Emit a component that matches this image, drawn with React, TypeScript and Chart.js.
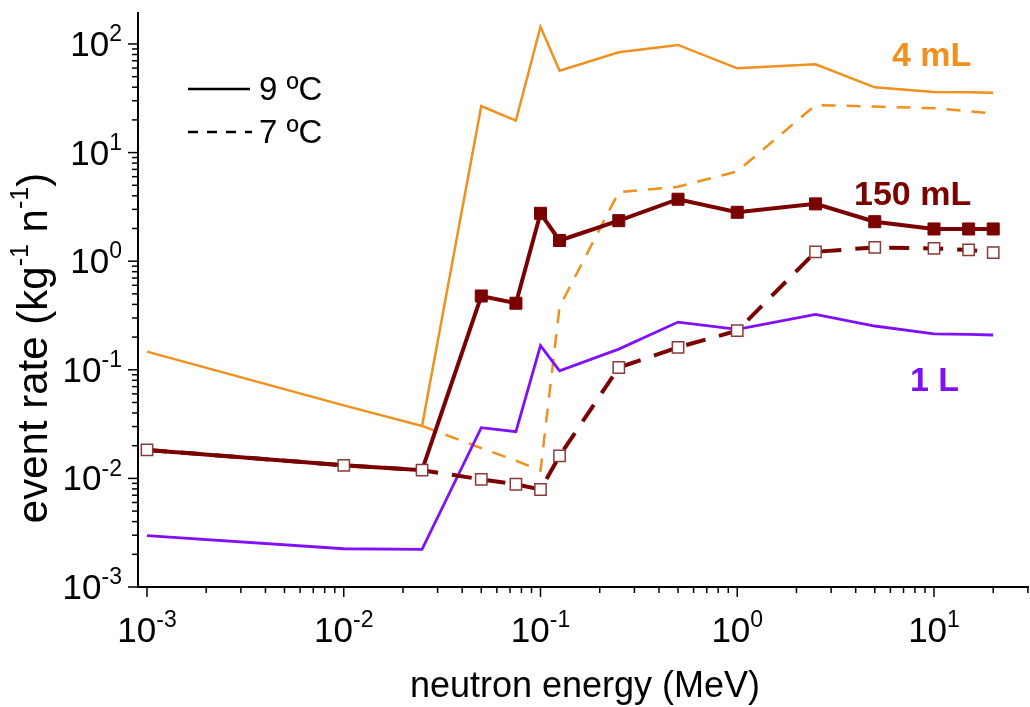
import React, { useEffect, useRef } from "react";
import { Chart, registerables } from "chart.js";
Chart.register(...registerables);

// neutron energy (MeV)
const energies = [0.001, 0.01, 0.025, 0.05, 0.075, 0.1, 0.125, 0.25, 0.5, 1, 2.5, 5, 10, 15, 20];
// event rate (kg^-1 n^-1)
const rate4mL_9C = [0.147, 0.047, 0.0304, 26.8, 19.7, 144, 56.8, 84, 98, 59.7, 65, 39.9, 36.1, 36, 35.6];
const rate4mL_7C = [null, null, 0.0304, 0.019, 0.0146, 0.0118, 0.38, 4.33, 4.85, 6.7, 27.4, 26.5, 25.6, 24, 23];
const rate150mL_9C = [0.0183, 0.0132, 0.0119, 0.478, 0.41, 2.76, 1.55, 2.36, 3.72, 2.82, 3.37, 2.31, 1.98, 1.98, 1.98];
const rate150mL_7C = [0.0183, 0.0132, 0.0119, 0.0098, 0.00883, 0.0079, 0.0161, 0.105, 0.161, 0.229, 1.22, 1.34, 1.31, 1.27, 1.2];
const rate1L_9C = [0.00297, 0.00225, 0.00222, 0.0293, 0.0269, 0.167, 0.098, 0.155, 0.275, 0.236, 0.324, 0.253, 0.214, 0.212, 0.209];

const xDecades = [-3, -2, -1, 0, 1];
const yDecades = [-3, -2, -1, 0, 1, 2];
const xMin = 0.0009;
const xMax = 30.4;
const yMin = 0.001;
const yMax = 197;

const ORANGE = "#F0901E";
const WINE = "#7B0000";
const VIOLET = "#8010F5";
const FONT = "'Liberation Sans', Arial, sans-serif";

const pts = (ys: (number | null)[]) => energies.map((x, i) => ({ x, y: ys[i] }));

function drawPow(ctx: CanvasRenderingContext2D, exp: string, x: number, y: number, align: "center" | "right", big: number, small: number) {
  ctx.font = `${big}px ${FONT}`;
  const w1 = ctx.measureText("10").width;
  ctx.font = `${small}px ${FONT}`;
  const w2 = ctx.measureText(exp).width;
  const total = w1 + w2;
  const left = align === "center" ? x - total / 2 : x - total;
  ctx.textAlign = "left";
  ctx.textBaseline = "alphabetic";
  ctx.font = `${big}px ${FONT}`;
  ctx.fillText("10", left, y);
  ctx.font = `${small}px ${FONT}`;
  ctx.fillText(exp, left + w1, y - big * 0.42);
}

const overlay = {
  id: "overlay",
  afterDraw(chart: any) {
    const ctx: CanvasRenderingContext2D = chart.ctx;
    const xs = chart.scales.x;
    const ys = chart.scales.y;
    const { left, right, top, bottom } = chart.chartArea;
    ctx.save();
    ctx.strokeStyle = "#000";
    ctx.fillStyle = "#000";
    ctx.lineWidth = 2;
    // axis lines
    ctx.beginPath();
    ctx.moveTo(left, top);
    ctx.lineTo(left, bottom);
    ctx.lineTo(right, bottom);
    ctx.stroke();
    // y ticks
    ctx.lineWidth = 1.5;
    yDecades.forEach((d) => {
      for (let k = 1; k <= 9; k++) {
        const v = k * Math.pow(10, d);
        if (v < yMin * 0.999 || v > yMax) continue;
        const py = ys.getPixelForValue(v);
        const len = k === 1 ? 10 : 6;
        ctx.beginPath();
        ctx.moveTo(left - len, py);
        ctx.lineTo(left, py);
        ctx.stroke();
      }
      const py = ys.getPixelForValue(Math.pow(10, d));
      drawPow(ctx, String(d), left - 16, py + 12, "right", 35, 23);
    });
    // x ticks
    xDecades.forEach((d) => {
      for (let k = 1; k <= 9; k++) {
        const v = k * Math.pow(10, d);
        if (v < xMin * 1.001 || v > xMax) continue;
        const px = xs.getPixelForValue(v);
        const len = k === 1 ? 10 : 6;
        ctx.beginPath();
        ctx.moveTo(px, bottom);
        ctx.lineTo(px, bottom + len);
        ctx.stroke();
      }
      const px = xs.getPixelForValue(Math.pow(10, d));
      drawPow(ctx, String(d), px, bottom + 55, "center", 35, 23);
    });
    // x title
    ctx.font = `36px ${FONT}`;
    ctx.textAlign = "center";
    ctx.textBaseline = "alphabetic";
    ctx.fillText("neutron energy (MeV)", 585, 697);
    // y title (rotated)
    ctx.save();
    ctx.translate(47, 348);
    ctx.rotate(-Math.PI / 2);
    const parts: [string, boolean][] = [["event rate (kg", false], ["-1", true], [" n", false], ["-1", true], [")", false]];
    const big = 42, small = 25;
    let tw = 0;
    parts.forEach(([t, s]) => { ctx.font = `${s ? small : big}px ${FONT}`; tw += ctx.measureText(t).width; });
    let cx = -tw / 2;
    ctx.textAlign = "left";
    parts.forEach(([t, s]) => {
      ctx.font = `${s ? small : big}px ${FONT}`;
      ctx.fillText(t, cx, s ? -big * 0.45 : 0);
      cx += ctx.measureText(t).width;
    });
    ctx.restore();
    // legend
    ctx.lineWidth = 2.5;
    ctx.strokeStyle = "#000";
    ctx.beginPath();
    ctx.moveTo(188, 89);
    ctx.lineTo(250, 89);
    ctx.stroke();
    ctx.setLineDash([10, 9]);
    ctx.beginPath();
    ctx.moveTo(188, 132);
    ctx.lineTo(252, 132);
    ctx.stroke();
    ctx.setLineDash([]);
    ctx.font = `33px ${FONT}`;
    ctx.textAlign = "left";
    ctx.fillText("9 \u00baC", 259, 100);
    ctx.fillText("7 \u00baC", 259, 143);
    // series labels
    ctx.font = `bold 34px ${FONT}`;
    ctx.fillStyle = ORANGE;
    ctx.fillText("4 mL", 892, 66);
    ctx.fillStyle = WINE;
    ctx.fillText("150 mL", 854, 205);
    ctx.fillStyle = VIOLET;
    ctx.fillText("1 L", 910, 391);
    ctx.restore();
  },
};

export default function App() {
  const ref = useRef<HTMLCanvasElement | null>(null);
  useEffect(() => {
    if (!ref.current) return;
    const chart = new Chart(ref.current, {
      type: "line",
      data: {
        datasets: [
          {
            label: "150 mL 7 ºC",
            data: pts(rate150mL_7C),
            borderColor: WINE,
            borderWidth: 4,
            borderDash: [20, 14],
            pointStyle: "rect",
            pointRadius: 8,
            pointBackgroundColor: "#ffffff",
            pointBorderColor: "#8A3A3A",
            pointBorderWidth: 1.5,
            tension: 0,
          },
          {
            label: "150 mL 9 ºC",
            data: pts(rate150mL_9C),
            borderColor: WINE,
            borderWidth: 4,
            pointStyle: "rect",
            pointRadius: energies.map((e) => (e < 0.04 ? 0 : 8.5)),
            pointBackgroundColor: WINE,
            pointBorderColor: WINE,
            pointBorderWidth: 1,
            tension: 0,
          },
          {
            label: "1 L 9 ºC",
            data: pts(rate1L_9C),
            borderColor: VIOLET,
            borderWidth: 2.8,
            pointRadius: 0,
            tension: 0,
          },
          {
            label: "4 mL 7 ºC",
            data: pts(rate4mL_7C),
            borderColor: ORANGE,
            borderWidth: 2.5,
            borderDash: [14, 11],
            pointRadius: 0,
            tension: 0,
          },
          {
            label: "4 mL 9 ºC",
            data: pts(rate4mL_9C),
            borderColor: ORANGE,
            borderWidth: 2.5,
            pointRadius: 0,
            tension: 0,
          },
        ],
      },
      options: {
        responsive: false,
        animation: false,
        devicePixelRatio: 1,
        layout: { autoPadding: false, padding: { left: 138, right: 1, top: 12, bottom: 120 } },
        plugins: { legend: { display: false }, tooltip: { enabled: false } },
        scales: {
          x: {
            type: "logarithmic",
            min: xMin,
            max: xMax,
            grid: { display: false },
            border: { display: false },
            ticks: { display: false },
            afterFit: (s: any) => { s.height = 0; },
          },
          y: {
            type: "logarithmic",
            min: yMin,
            max: yMax,
            grid: { display: false },
            border: { display: false },
            ticks: { display: false },
            afterFit: (s: any) => { s.width = 0; },
          },
        },
      },
      plugins: [overlay],
    });
    return () => chart.destroy();
  }, []);
  return (
    <div style={{ position: "fixed", left: 0, top: 0, width: 1030, height: 707, background: "#fff" }}>
      <canvas ref={ref} width={1030} height={707} />
    </div>
  );
}
